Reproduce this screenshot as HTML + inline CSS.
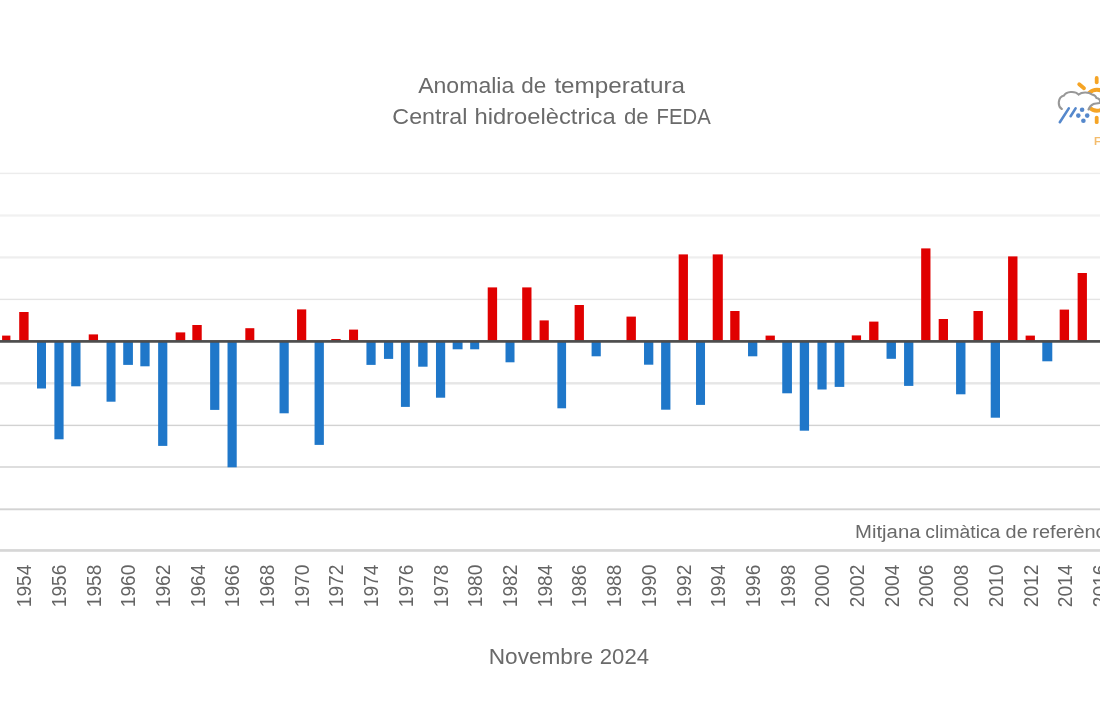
<!DOCTYPE html>
<html><head><meta charset="utf-8"><title>Anomalia de temperatura</title>
<style>
html,body{margin:0;padding:0;background:#fff;}
body{width:1100px;height:710px;overflow:hidden;font-family:"Liberation Sans",sans-serif;}
svg{display:block;filter:blur(0.45px);}
text{font-family:"Liberation Sans",sans-serif;fill:#5e5e5e;}
</style></head><body>
<svg width="1100" height="710" viewBox="0 0 1100 710">
<rect width="1100" height="710" fill="#ffffff"/>

<g id="grid">
<rect x="0" y="172.70" width="1100" height="1.4" fill="#ececec"/>
<rect x="0" y="214.40" width="1100" height="2.2" fill="#f1f1f1"/>
<rect x="0" y="256.30" width="1100" height="2.2" fill="#eeeeee"/>
<rect x="0" y="298.70" width="1100" height="1.4" fill="#e4e4e4"/>
<rect x="0" y="382.10" width="1100" height="2.4" fill="#e6e6e6"/>
<rect x="0" y="424.70" width="1100" height="1.4" fill="#d2d2d2"/>
<rect x="0" y="466.35" width="1100" height="1.3" fill="#cdcdcd"/>
<rect x="0" y="508.35" width="1100" height="1.9" fill="#d3d3d3"/>
<rect x="0" y="549.1" width="1100" height="2.7" fill="#d6d6d6"/>
</g>
<g id="bars">
<rect x="2.10" y="335.6" width="8.3" height="5.6" fill="#e00000"/>
<rect x="19.20" y="312.0" width="9.4" height="29.2" fill="#e00000"/>
<rect x="37.00" y="341.2" width="9.0" height="47.3" fill="#1f77c9"/>
<rect x="54.39" y="341.2" width="9.2" height="98.1" fill="#1f77c9"/>
<rect x="71.21" y="341.2" width="9.3" height="45.1" fill="#1f77c9"/>
<rect x="88.73" y="334.4" width="9.3" height="6.8" fill="#e00000"/>
<rect x="106.54" y="341.2" width="9.0" height="60.5" fill="#1f77c9"/>
<rect x="123.22" y="341.2" width="9.7" height="23.7" fill="#1f77c9"/>
<rect x="140.32" y="341.2" width="9.3" height="25.1" fill="#1f77c9"/>
<rect x="158.13" y="341.2" width="9.2" height="104.7" fill="#1f77c9"/>
<rect x="175.65" y="332.4" width="9.6" height="8.8" fill="#e00000"/>
<rect x="192.33" y="325.0" width="9.4" height="16.2" fill="#e00000"/>
<rect x="210.14" y="341.2" width="9.2" height="68.7" fill="#1f77c9"/>
<rect x="227.52" y="341.2" width="9.2" height="126.1" fill="#1f77c9"/>
<rect x="245.32" y="328.2" width="9.0" height="13.0" fill="#e00000"/>
<rect x="279.53" y="341.2" width="9.2" height="72.1" fill="#1f77c9"/>
<rect x="297.05" y="309.4" width="9.2" height="31.8" fill="#e00000"/>
<rect x="314.57" y="341.2" width="9.3" height="103.7" fill="#1f77c9"/>
<rect x="331.26" y="339.0" width="9.4" height="2.2" fill="#e00000"/>
<rect x="349.06" y="329.6" width="9.0" height="11.6" fill="#e00000"/>
<rect x="366.44" y="341.2" width="9.2" height="23.7" fill="#1f77c9"/>
<rect x="383.97" y="341.2" width="9.2" height="17.7" fill="#1f77c9"/>
<rect x="400.93" y="341.2" width="8.9" height="65.7" fill="#1f77c9"/>
<rect x="418.17" y="341.2" width="9.4" height="25.5" fill="#1f77c9"/>
<rect x="435.98" y="341.2" width="9.2" height="56.5" fill="#1f77c9"/>
<rect x="452.66" y="341.2" width="9.9" height="8.1" fill="#1f77c9"/>
<rect x="470.18" y="341.2" width="9.0" height="8.1" fill="#1f77c9"/>
<rect x="487.71" y="287.4" width="9.4" height="53.8" fill="#e00000"/>
<rect x="505.51" y="341.2" width="9.0" height="21.1" fill="#1f77c9"/>
<rect x="522.19" y="287.4" width="9.3" height="53.8" fill="#e00000"/>
<rect x="539.58" y="320.4" width="9.2" height="20.8" fill="#e00000"/>
<rect x="557.38" y="341.2" width="8.7" height="67.1" fill="#1f77c9"/>
<rect x="574.62" y="305.0" width="9.3" height="36.2" fill="#e00000"/>
<rect x="591.59" y="341.2" width="9.2" height="15.1" fill="#1f77c9"/>
<rect x="626.49" y="316.6" width="9.4" height="24.6" fill="#e00000"/>
<rect x="644.02" y="341.2" width="9.3" height="23.5" fill="#1f77c9"/>
<rect x="661.12" y="341.2" width="9.3" height="68.5" fill="#1f77c9"/>
<rect x="678.64" y="254.4" width="9.3" height="86.8" fill="#e00000"/>
<rect x="696.02" y="341.2" width="9.0" height="63.7" fill="#1f77c9"/>
<rect x="712.71" y="254.4" width="10.1" height="86.8" fill="#e00000"/>
<rect x="730.23" y="311.0" width="9.3" height="30.2" fill="#e00000"/>
<rect x="748.03" y="341.2" width="9.3" height="15.1" fill="#1f77c9"/>
<rect x="765.56" y="335.6" width="9.3" height="5.6" fill="#e00000"/>
<rect x="782.24" y="341.2" width="9.7" height="52.1" fill="#1f77c9"/>
<rect x="799.76" y="341.2" width="9.3" height="89.5" fill="#1f77c9"/>
<rect x="817.43" y="341.2" width="9.2" height="48.3" fill="#1f77c9"/>
<rect x="834.67" y="341.2" width="9.6" height="45.7" fill="#1f77c9"/>
<rect x="851.77" y="335.4" width="9.3" height="5.8" fill="#e00000"/>
<rect x="869.16" y="321.6" width="9.3" height="19.6" fill="#e00000"/>
<rect x="886.54" y="341.2" width="9.4" height="17.6" fill="#1f77c9"/>
<rect x="904.06" y="341.2" width="9.3" height="44.7" fill="#1f77c9"/>
<rect x="921.17" y="248.4" width="9.3" height="92.8" fill="#e00000"/>
<rect x="938.69" y="319.0" width="9.3" height="22.2" fill="#e00000"/>
<rect x="956.07" y="341.2" width="9.4" height="53.1" fill="#1f77c9"/>
<rect x="973.46" y="311.0" width="9.4" height="30.2" fill="#e00000"/>
<rect x="990.70" y="341.2" width="9.3" height="76.5" fill="#1f77c9"/>
<rect x="1008.08" y="256.4" width="9.4" height="84.8" fill="#e00000"/>
<rect x="1025.61" y="335.6" width="9.3" height="5.6" fill="#e00000"/>
<rect x="1042.29" y="341.2" width="10.0" height="20.1" fill="#1f77c9"/>
<rect x="1059.67" y="309.6" width="9.4" height="31.6" fill="#e00000"/>
<rect x="1077.62" y="273.0" width="9.3" height="68.2" fill="#e00000"/>
</g>
<rect x="0" y="340.05" width="1100" height="2.7" fill="#4d4d4d"/>
<text x="418.20" y="92.7" font-size="22.3" textLength="96.07" lengthAdjust="spacingAndGlyphs" style="fill:#6a6a6a">Anomalia</text>
<text x="521.19" y="92.7" font-size="22.3" textLength="25.03" lengthAdjust="spacingAndGlyphs" style="fill:#6a6a6a">de</text>
<text x="554.40" y="92.7" font-size="22.3" textLength="130.64" lengthAdjust="spacingAndGlyphs" style="fill:#6a6a6a">temperatura</text>
<text x="392.36" y="123.9" font-size="22.3" textLength="75.07" lengthAdjust="spacingAndGlyphs" style="fill:#6a6a6a">Central</text>
<text x="474.43" y="123.9" font-size="22.3" textLength="141.25" lengthAdjust="spacingAndGlyphs" style="fill:#6a6a6a">hidroelèctrica</text>
<text x="624.00" y="123.9" font-size="22.3" textLength="24.70" lengthAdjust="spacingAndGlyphs" style="fill:#6a6a6a">de</text>
<text x="656.58" y="123.9" font-size="22.3" textLength="54.15" lengthAdjust="spacingAndGlyphs" style="fill:#6a6a6a">FEDA</text>
<text x="488.72" y="664.3" font-size="21.8" textLength="104.35" lengthAdjust="spacingAndGlyphs" style="fill:#6a6a6a">Novembre</text>
<text x="599.79" y="664.3" font-size="21.8" textLength="49.22" lengthAdjust="spacingAndGlyphs" style="fill:#6a6a6a">2024</text>
<text x="855.02" y="538.0" font-size="18.8" textLength="65.48" lengthAdjust="spacingAndGlyphs" style="fill:#6a6a6a">Mitjana</text>
<text x="925.27" y="538.0" font-size="18.8" textLength="75.09" lengthAdjust="spacingAndGlyphs" style="fill:#6a6a6a">climàtica</text>
<text x="1005.64" y="538.0" font-size="18.8" textLength="22.10" lengthAdjust="spacingAndGlyphs" style="fill:#6a6a6a">de</text>
<text x="1032.34" y="538.0" font-size="18.8" textLength="88.81" lengthAdjust="spacingAndGlyphs" style="fill:#6a6a6a">referència</text>
<g id="xlabels" font-size="19.3" style="fill:#646464">
<text transform="translate(31.10,607.2) rotate(-90)" textLength="42.6" lengthAdjust="spacingAndGlyphs" style="fill:#646464">1954</text>
<text transform="translate(65.81,607.2) rotate(-90)" textLength="42.6" lengthAdjust="spacingAndGlyphs" style="fill:#646464">1956</text>
<text transform="translate(100.51,607.2) rotate(-90)" textLength="42.6" lengthAdjust="spacingAndGlyphs" style="fill:#646464">1958</text>
<text transform="translate(135.22,607.2) rotate(-90)" textLength="42.6" lengthAdjust="spacingAndGlyphs" style="fill:#646464">1960</text>
<text transform="translate(169.92,607.2) rotate(-90)" textLength="42.6" lengthAdjust="spacingAndGlyphs" style="fill:#646464">1962</text>
<text transform="translate(204.63,607.2) rotate(-90)" textLength="42.6" lengthAdjust="spacingAndGlyphs" style="fill:#646464">1964</text>
<text transform="translate(239.34,607.2) rotate(-90)" textLength="42.6" lengthAdjust="spacingAndGlyphs" style="fill:#646464">1966</text>
<text transform="translate(274.04,607.2) rotate(-90)" textLength="42.6" lengthAdjust="spacingAndGlyphs" style="fill:#646464">1968</text>
<text transform="translate(308.75,607.2) rotate(-90)" textLength="42.6" lengthAdjust="spacingAndGlyphs" style="fill:#646464">1970</text>
<text transform="translate(343.45,607.2) rotate(-90)" textLength="42.6" lengthAdjust="spacingAndGlyphs" style="fill:#646464">1972</text>
<text transform="translate(378.16,607.2) rotate(-90)" textLength="42.6" lengthAdjust="spacingAndGlyphs" style="fill:#646464">1974</text>
<text transform="translate(412.87,607.2) rotate(-90)" textLength="42.6" lengthAdjust="spacingAndGlyphs" style="fill:#646464">1976</text>
<text transform="translate(447.57,607.2) rotate(-90)" textLength="42.6" lengthAdjust="spacingAndGlyphs" style="fill:#646464">1978</text>
<text transform="translate(482.28,607.2) rotate(-90)" textLength="42.6" lengthAdjust="spacingAndGlyphs" style="fill:#646464">1980</text>
<text transform="translate(516.98,607.2) rotate(-90)" textLength="42.6" lengthAdjust="spacingAndGlyphs" style="fill:#646464">1982</text>
<text transform="translate(551.69,607.2) rotate(-90)" textLength="42.6" lengthAdjust="spacingAndGlyphs" style="fill:#646464">1984</text>
<text transform="translate(586.40,607.2) rotate(-90)" textLength="42.6" lengthAdjust="spacingAndGlyphs" style="fill:#646464">1986</text>
<text transform="translate(621.10,607.2) rotate(-90)" textLength="42.6" lengthAdjust="spacingAndGlyphs" style="fill:#646464">1988</text>
<text transform="translate(655.81,607.2) rotate(-90)" textLength="42.6" lengthAdjust="spacingAndGlyphs" style="fill:#646464">1990</text>
<text transform="translate(690.51,607.2) rotate(-90)" textLength="42.6" lengthAdjust="spacingAndGlyphs" style="fill:#646464">1992</text>
<text transform="translate(725.22,607.2) rotate(-90)" textLength="42.6" lengthAdjust="spacingAndGlyphs" style="fill:#646464">1994</text>
<text transform="translate(759.93,607.2) rotate(-90)" textLength="42.6" lengthAdjust="spacingAndGlyphs" style="fill:#646464">1996</text>
<text transform="translate(794.63,607.2) rotate(-90)" textLength="42.6" lengthAdjust="spacingAndGlyphs" style="fill:#646464">1998</text>
<text transform="translate(829.34,607.2) rotate(-90)" textLength="42.6" lengthAdjust="spacingAndGlyphs" style="fill:#646464">2000</text>
<text transform="translate(864.04,607.2) rotate(-90)" textLength="42.6" lengthAdjust="spacingAndGlyphs" style="fill:#646464">2002</text>
<text transform="translate(898.75,607.2) rotate(-90)" textLength="42.6" lengthAdjust="spacingAndGlyphs" style="fill:#646464">2004</text>
<text transform="translate(933.46,607.2) rotate(-90)" textLength="42.6" lengthAdjust="spacingAndGlyphs" style="fill:#646464">2006</text>
<text transform="translate(968.16,607.2) rotate(-90)" textLength="42.6" lengthAdjust="spacingAndGlyphs" style="fill:#646464">2008</text>
<text transform="translate(1002.87,607.2) rotate(-90)" textLength="42.6" lengthAdjust="spacingAndGlyphs" style="fill:#646464">2010</text>
<text transform="translate(1037.57,607.2) rotate(-90)" textLength="42.6" lengthAdjust="spacingAndGlyphs" style="fill:#646464">2012</text>
<text transform="translate(1072.28,607.2) rotate(-90)" textLength="42.6" lengthAdjust="spacingAndGlyphs" style="fill:#646464">2014</text>
<text transform="translate(1106.99,607.2) rotate(-90)" textLength="42.6" lengthAdjust="spacingAndGlyphs" style="fill:#646464">2016</text>
</g>
<g id="logo" fill="none" stroke-linecap="round">
<circle cx="1096.9" cy="100.2" r="10.5" stroke="#f5a425" stroke-width="4"/>
<line x1="1096.7" y1="78" x2="1096.7" y2="82.3" stroke="#f5a425" stroke-width="3.8"/>
<line x1="1096.7" y1="117.6" x2="1096.7" y2="122.2" stroke="#f5a425" stroke-width="3.8"/>
<line x1="1079.2" y1="84.3" x2="1084" y2="88.3" stroke="#f5a425" stroke-width="3.8"/>
<path d="M1061.8 109 C1057.5 106.5 1057.5 97 1064 95.5 C1066 91.5 1075 90.5 1078.7 94.6 C1082 91.5 1089 92 1092 94.5 C1094.5 95 1096 96.5 1096.5 98 C1099.5 98.5 1101 101 1099.5 103 C1097 103.8 1095 103.2 1093.5 104 C1091 105 1089.5 107 1088.5 109.5" stroke="#989898" stroke-width="2.1" fill="#ffffff"/>
<line x1="1068.8" y1="108.4" x2="1059.8" y2="122.2" stroke="#5588cc" stroke-width="2.6"/>
<line x1="1075.6" y1="108.4" x2="1070.6" y2="116.2" stroke="#5588cc" stroke-width="2.6"/>
<g fill="#5588cc" stroke="none">
<circle cx="1082.1" cy="109.7" r="2.3"/><circle cx="1078.3" cy="115.6" r="2.3"/>
<circle cx="1087.2" cy="115.6" r="2.3"/><circle cx="1083.4" cy="120.8" r="2.3"/>
</g>
</g>
<text x="1094" y="145" font-size="11" font-weight="bold" style="fill:#f3bc6c">F</text>

</svg></body></html>
